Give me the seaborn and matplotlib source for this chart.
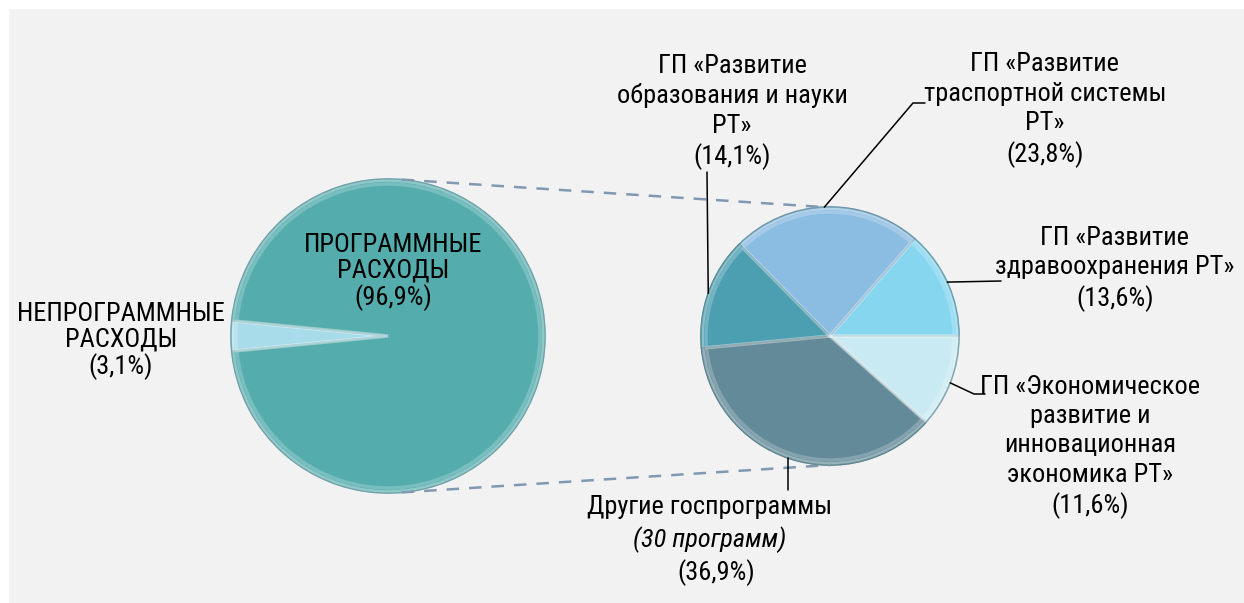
import numpy as np
import matplotlib
matplotlib.use('Agg')
import matplotlib.pyplot as plt
import seaborn as sns
from matplotlib.patches import Rectangle

# %% data

main_labels = ['НЕПРОГРАММНЫЕ\nРАСХОДЫ\n(3,1%)', 'ПРОГРАММНЫЕ\nРАСХОДЫ\n(96,9%)']
main_share = [3.1, 96.9]
main_colors = ['#a9dcea', '#54acac']

prog_labels = ['ГП «Развитие\nздравоохранения РТ»\n(13,6%)',
               'ГП «Развитие\nтраспортной системы\nРТ»\n(23,8%)',
               'ГП «Развитие\nобразования и науки\nРТ»\n(14,1%)',
               'Другие госпрограммы',
               'ГП «Экономическое\nразвитие и\nинновационная\nэкономика РТ»\n(11,6%)']
prog_share = [13.6, 23.8, 14.1, 36.9, 11.6]
prog_colors = ['#86d6f0', '#8bbce1', '#4c9eb1', '#628a98', '#c9eaf2']
other_note = '(30 программ)'
other_pct = '(36,9%)'

# %% layout (pixels, image coords: y down)

W, H = 1244, 603
Y = lambda y: H - y
c1, r1 = (388, 336), 157
c2, r2 = (830, 336), 129

sns.set_style('white')
plt.rcParams['font.family'] = ['Roboto Condensed', 'Liberation Sans', 'DejaVu Sans']
plt.rcParams['text.color'] = 'black'

fig = plt.figure(figsize=(W / 100, H / 100), dpi=100, facecolor='#f2f2f2')
# white strips at top and left
fig.patches.append(Rectangle((0, 0), 8 / W, 1, transform=fig.transFigure, color='white', zorder=0))
fig.patches.append(Rectangle((0, 1 - 8 / H), 1, 8 / H, transform=fig.transFigure, color='white', zorder=0))

ax = fig.add_axes([0, 0, 1, 1])
ax.patch.set_visible(False)


def darker(c, f=0.8):
    rgb = np.array(matplotlib.colors.to_rgb(c))
    return tuple(rgb * f)


# left pie: small slice centred on the west side
start1 = 180 - main_share[0] * 3.6 / 2
w1, _ = ax.pie(main_share, colors=main_colors, center=(c1[0], Y(c1[1])), radius=r1,
               startangle=start1, counterclock=True,
               wedgeprops=dict(linewidth=1.2, edgecolor='#7fb9c0'), frame=True)
# right pie
w2, _ = ax.pie(prog_share, colors=prog_colors, center=(c2[0], Y(c2[1])), radius=r2,
               startangle=0, counterclock=True,
               wedgeprops=dict(linewidth=1.2), frame=True)
for w, col in zip(w2, prog_colors):
    w.set_edgecolor(darker(col, 0.85))

# bevel-ish inner highlight for every slice
for share, c, r, st in [(main_share, c1, r1, start1), (prog_share, c2, r2, 0)]:
    ax.pie(share, center=(c[0], Y(c[1])), radius=r - 5, startangle=st, counterclock=True,
           wedgeprops=dict(fill=False, edgecolor='white', linewidth=2.5, alpha=0.22), frame=True)

# soft rim
for c, r in [(c1, r1), (c2, r2)]:
    ax.add_patch(plt.Circle((c[0], Y(c[1])), r - 1.5, fill=False, ec='white', lw=2, alpha=0.35))
    ax.add_patch(plt.Circle((c[0], Y(c[1])), r, fill=False, ec='#5f8f99', lw=1, alpha=0.6))

ax.set_xlim(0, W)
ax.set_ylim(0, H)
ax.set_aspect('equal')
ax.axis('off')


def edge(c, r, ang):
    a = np.deg2rad(ang)
    return c[0] + r * np.cos(a), Y(c[1]) + r * np.sin(a)


# dashed connectors between the pies
for a1, a2 in [(85, 92.5), (-85, -90)]:
    p, q = edge(c1, r1, a1), edge(c2, r2, a2)
    ax.plot([p[0], q[0]], [p[1], q[1]], ls=(0, (5, 4)), color='#8198b3', lw=1.8, zorder=1)

# leader lines
leaders = [
    (24.7, [(1001, 281)]),
    (92.5, [(913, 103), (925, 103)]),
    (160.7, [(707, 172)]),
    (-109, [(788, 490)]),
    (-21.3, [(974, 394), (985, 394)]),
]
for ang, pts in leaders:
    x0, y0 = edge(c2, r2, ang)
    xs = [x0] + [p[0] for p in pts]
    ys = [y0] + [Y(p[1]) for p in pts]
    ax.plot(xs, ys, color='black', lw=1.1, zorder=3)

fs = 19
ax.text(121, Y(341), main_labels[0], ha='center', va='center', fontsize=fs, linespacing=1.1)
ax.text(393, Y(272), main_labels[1], ha='center', va='center', fontsize=fs, linespacing=1.1)

label_pos = [(1115, 269), (1045, 110), (732, 112), None, (1090, 447)]
for lab, pos in zip(prog_labels, label_pos):
    if pos is None:
        continue
    ax.text(pos[0], Y(pos[1]), lab, ha='center', va='center', fontsize=fs, linespacing=1.28)

ax.text(710, Y(507), prog_labels[3], ha='center', va='center', fontsize=fs)
ax.text(710, Y(540), other_note, ha='center', va='center', fontsize=fs, style='italic')
ax.text(716, Y(573), other_pct, ha='center', va='center', fontsize=fs)

fig.savefig('out.png', dpi=100, facecolor=fig.get_facecolor())
